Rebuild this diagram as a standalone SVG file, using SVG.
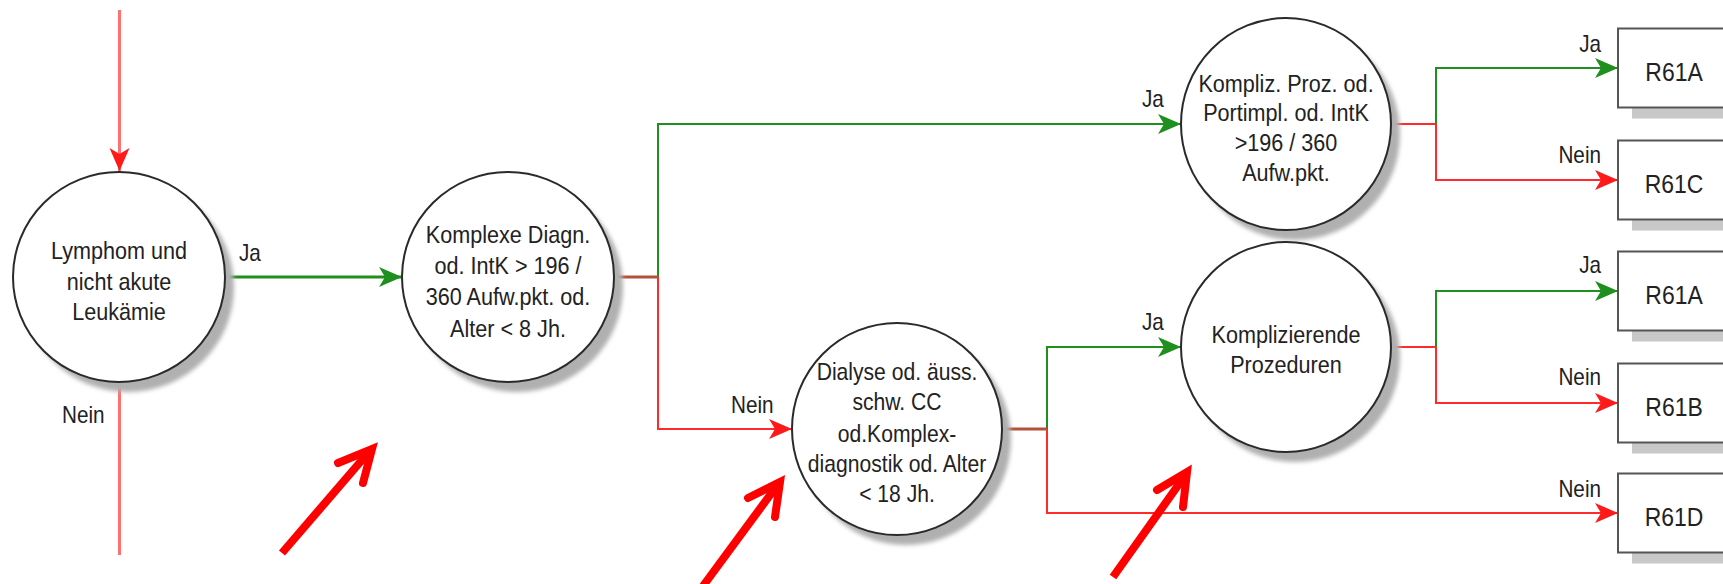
<svg xmlns="http://www.w3.org/2000/svg" width="1723" height="584" viewBox="0 0 1723 584">
<defs>
<style>
.body{fill:#fff;stroke:#2a2a2a;stroke-width:2}
.shadow{fill:#b0b0b0;filter:url(#blur)}
.t{font-family:"Liberation Sans",Arial,sans-serif;font-size:24px;fill:#222;text-anchor:middle}
.lbl{font-family:"Liberation Sans",Arial,sans-serif;font-size:23px;fill:#222}
.bt{font-family:"Liberation Sans",Arial,sans-serif;font-size:25.5px;fill:#222;text-anchor:middle}
.box{fill:#fff;stroke:#555;stroke-width:2}
.bshadow{fill:#c8c8c8}
.g{stroke:#1f8f1f;stroke-width:2;fill:none}
.r{stroke:#ff2a2a;stroke-width:2;fill:none}
.rl{stroke:#ff7070;stroke-width:3;fill:none}
.st{stroke:#b5503a;stroke-width:3;fill:none}
.anno{stroke:#ff0000;stroke-width:8;fill:none;stroke-linecap:round;stroke-linejoin:miter}
</style>
<filter id="blur" x="-10%" y="-10%" width="120%" height="120%"><feGaussianBlur stdDeviation="2"/></filter>
<marker id="ag" markerUnits="userSpaceOnUse" markerWidth="26" markerHeight="22" refX="23" refY="10" orient="auto"><path d="M0,0 L23,10 L0,20 L6,10 z" fill="#1f8f1f"/></marker>
<marker id="ar" markerUnits="userSpaceOnUse" markerWidth="26" markerHeight="22" refX="23" refY="10" orient="auto"><path d="M0,0 L23,10 L0,20 L6,10 z" fill="#ff1a1a"/></marker>
</defs>
<rect width="1723" height="584" fill="#fff"/>

<g id="connectors">
<path class="rl" d="M119.5,10 V171" marker-end="url(#ar)"/>
<path class="rl" d="M119.5,382 V555"/>
<path class="g" style="stroke-width:3" d="M225,277 H402" marker-end="url(#ag)"/>
<path class="g" d="M658,277 V124 H1181" marker-end="url(#ag)"/>
<path class="r" d="M658,277 V429 H792" marker-end="url(#ar)"/>
<path class="st" d="M615,277 H658"/>
<path class="g" d="M1047,429 V347 H1181" marker-end="url(#ag)"/>
<path class="r" d="M1047,429 V513 H1618" marker-end="url(#ar)"/>
<path class="st" d="M1003,429 H1047"/>
<path class="r" d="M1392,124 H1436"/>
<path class="g" d="M1436,124 V68 H1618" marker-end="url(#ag)"/>
<path class="r" d="M1436,124 V180 H1618" marker-end="url(#ar)"/>
<path class="r" d="M1392,347 H1436"/>
<path class="g" d="M1436,347 V291 H1618" marker-end="url(#ag)"/>
<path class="r" d="M1436,347 V403 H1618" marker-end="url(#ar)"/>
</g>

<g id="labels">
<text class="lbl" transform="translate(239,0) scale(0.9,1)" y="261">Ja</text>
<text class="lbl" transform="translate(62,0) scale(0.9,1)" y="423">Nein</text>
<text class="lbl" transform="translate(1142,0) scale(0.9,1)" y="107">Ja</text>
<text class="lbl" transform="translate(731,0) scale(0.9,1)" y="413">Nein</text>
<text class="lbl" transform="translate(1142,0) scale(0.9,1)" y="330">Ja</text>
<text class="lbl" transform="translate(1601,0) scale(0.9,1)" y="52" text-anchor="end">Ja</text>
<text class="lbl" transform="translate(1601,0) scale(0.9,1)" y="163" text-anchor="end">Nein</text>
<text class="lbl" transform="translate(1601,0) scale(0.9,1)" y="273" text-anchor="end">Ja</text>
<text class="lbl" transform="translate(1601,0) scale(0.9,1)" y="385" text-anchor="end">Nein</text>
<text class="lbl" transform="translate(1601,0) scale(0.9,1)" y="497" text-anchor="end">Nein</text>
</g>

<g id="n1">
<ellipse class="shadow" cx="128" cy="287" rx="106" ry="105"/>
<ellipse class="body" cx="119" cy="277" rx="106" ry="105"/>
<text class="t" transform="translate(119,0) scale(0.9,1)"><tspan x="0" y="259">Lymphom und</tspan><tspan x="0" y="290">nicht akute</tspan><tspan x="0" y="320">Leukämie</tspan></text>
</g>

<g id="n2">
<ellipse class="shadow" cx="517" cy="287" rx="106" ry="105"/>
<ellipse class="body" cx="508" cy="277" rx="106" ry="105"/>
<text class="t" transform="translate(508,0) scale(0.9,1)"><tspan x="0" y="243">Komplexe Diagn.</tspan><tspan x="0" y="274">od. IntK &gt; 196 /</tspan><tspan x="0" y="305">360 Aufw.pkt. od.</tspan><tspan x="0" y="337">Alter &lt; 8 Jh.</tspan></text>
</g>

<g id="n3">
<ellipse class="shadow" cx="906" cy="439" rx="105" ry="106"/>
<ellipse class="body" cx="897" cy="429" rx="105" ry="106"/>
<text class="t" transform="translate(897,0) scale(0.88,1)"><tspan x="0" y="380">Dialyse od. äuss.</tspan><tspan x="0" y="410">schw. CC</tspan><tspan x="0" y="442">od.Komplex-</tspan><tspan x="0" y="472">diagnostik od. Alter</tspan><tspan x="0" y="502">&lt; 18 Jh.</tspan></text>
</g>

<g id="n4">
<ellipse class="shadow" cx="1295" cy="134" rx="105" ry="106"/>
<ellipse class="body" cx="1286" cy="124" rx="105" ry="106"/>
<text class="t" transform="translate(1286,0) scale(0.9,1)"><tspan x="0" y="92">Kompliz. Proz. od.</tspan><tspan x="0" y="121">Portimpl. od. IntK</tspan><tspan x="0" y="151">&gt;196 / 360</tspan><tspan x="0" y="181">Aufw.pkt.</tspan></text>
</g>

<g id="n5">
<ellipse class="shadow" cx="1295" cy="357" rx="105" ry="105"/>
<ellipse class="body" cx="1286" cy="347" rx="105" ry="105"/>
<text class="t" transform="translate(1286,0) scale(0.9,1)"><tspan x="0" y="343">Komplizierende</tspan><tspan x="0" y="373">Prozeduren</tspan></text>
</g>

<g id="r1">
<rect class="bshadow" x="1632" y="38.5" width="120" height="80"/>
<rect class="box" x="1618" y="28.5" width="120" height="79"/>
<text class="bt" transform="translate(1674,0) scale(0.9,1)" y="81">R61A</text>
</g>
<g id="r2">
<rect class="bshadow" x="1632" y="150.5" width="120" height="80"/>
<rect class="box" x="1618" y="140.5" width="120" height="79"/>
<text class="bt" transform="translate(1674,0) scale(0.9,1)" y="193">R61C</text>
</g>
<g id="r3">
<rect class="bshadow" x="1632" y="261.5" width="120" height="80"/>
<rect class="box" x="1618" y="251.5" width="120" height="79"/>
<text class="bt" transform="translate(1674,0) scale(0.9,1)" y="304">R61A</text>
</g>
<g id="r4">
<rect class="bshadow" x="1632" y="373.5" width="120" height="80"/>
<rect class="box" x="1618" y="363.5" width="120" height="79"/>
<text class="bt" transform="translate(1674,0) scale(0.9,1)" y="416">R61B</text>
</g>
<g id="r5">
<rect class="bshadow" x="1632" y="483.5" width="120" height="80"/>
<rect class="box" x="1618" y="473.5" width="120" height="79"/>
<text class="bt" transform="translate(1674,0) scale(0.9,1)" y="526">R61D</text>
</g>

<g id="annotations">
<path class="anno" style="stroke-linecap:butt" d="M282,553 L368,453"/>
<path class="anno" d="M338,463 L372,449 L363,483"/>
<path class="anno" style="stroke-linecap:butt" d="M703,586 L776,487"/>
<path class="anno" d="M748,498 L780,482 L775,517"/>
<path class="anno" style="stroke-linecap:butt" d="M1113,577 L1184,477"/>
<path class="anno" d="M1157,490 L1187,472 L1183,507"/>
</g>
</svg>
